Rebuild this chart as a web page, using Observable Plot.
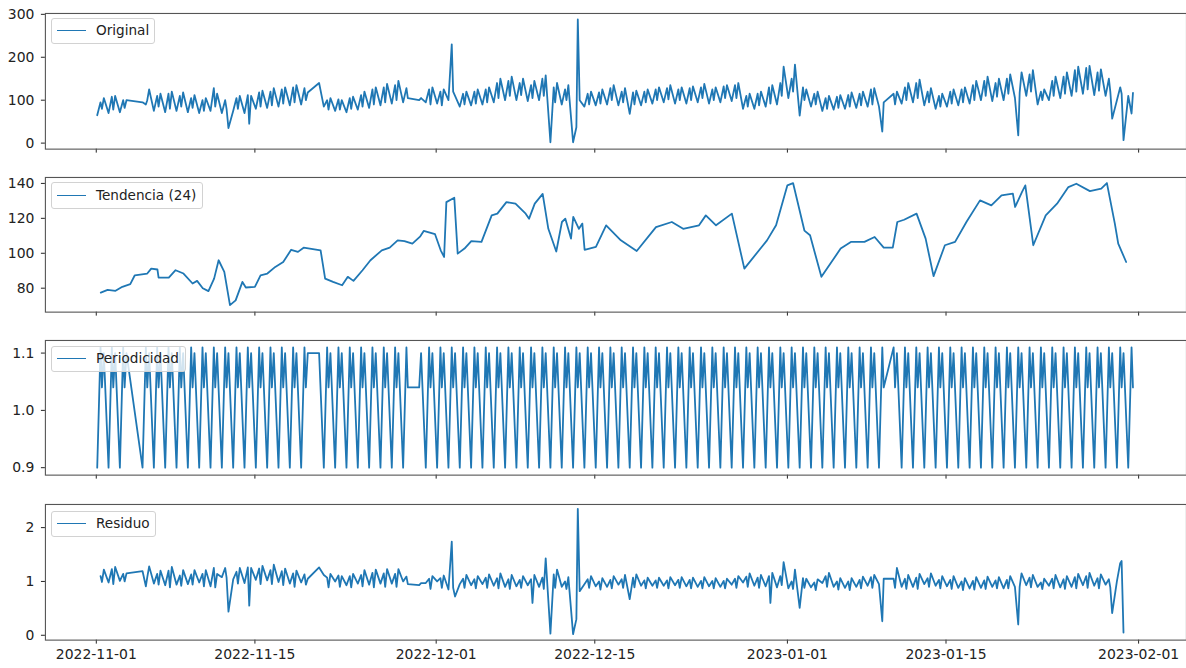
<!DOCTYPE html>
<html><head><meta charset="utf-8">
<script src="https://cdn.jsdelivr.net/npm/d3@7"></script>
<script src="https://cdn.jsdelivr.net/npm/@observablehq/plot@0.6"></script>
<style>
body{margin:0;background:#fff;}
#wrap{position:relative;width:1186px;height:668px;overflow:hidden;font-family:"DejaVu Sans",sans-serif;background:#fff;}
.panel{position:absolute;left:0;}
.panel svg{display:block;overflow:visible;}
.legend{position:absolute;background:rgba(255,255,255,0.8);border:1px solid #d2d2d2;border-radius:3px;box-sizing:border-box;font-size:13.6px;color:#222;}
.legend .sw{position:absolute;left:5px;top:50%;width:29px;height:0;border-top:1.8px solid #1f77b4;margin-top:-0.9px;}
.legend .lab{position:absolute;left:44px;top:50%;transform:translateY(-52%);white-space:nowrap;line-height:1;}
</style></head><body><div id="wrap"></div>
<script>
// ---------------- data ----------------
const startDay = [2022, 10, 1];            // 2022-11-01 (UTC, month 0-based)
const slotHours = [2, 9, 12, 16];          // hours of the samples kept for each day
const seasonalBySlot = [0.90, 1.11, 1.04, 1.10];
const xTickLabels = ["2022-11-01","2022-11-15","2022-12-01","2022-12-15","2023-01-01","2023-01-15","2023-02-01"];

// Original: one row per day (2022-11-01 ... 2023-01-31), values at slotHours; null = no sample
const original = [
[65,95,80,105],[70,108,78,110],[72,100,82,100],[null,null,null,null],[95,90,100,125],
[75,110,85,115],[72,115,80,120],[75,110,85,118],[72,105,82,112],[70,100,75,105],
[75,128,85,115],[70,100,80,35],[75,105,80,110],[70,112,45,110],[80,118,85,122],
[82,120,88,128],[85,125,92,130],[88,130,95,135],[90,128,100,118],[null,null,null,140],
[85,100,78,105],[75,102,78,100],[72,105,80,108],[78,112,85,120],[82,125,90,130],
[88,130,95,138],[92,135,100,145],[95,128,105,null],[null,null,100,105],[95,125,90,130],
[92,120,88,125],[100,230,120,110],[85,115,90,120],[88,120,92,125],[90,125,95,130],
[95,140,105,150],[100,145,110,155],[100,140,112,150],[98,135,105,145],[100,150,110,158],
[2,130,95,140],[90,125,100,135],[2,37,288,100],[85,115,90,120],[88,118,92,125],
[90,128,100,135],[88,120,95,128],[68,118,90,122],[88,120,95,125],[92,125,100,130],
[95,128,102,135],[92,125,100,130],[92,128,100,132],[95,130,105,138],[92,125,100,130],
[95,132,105,135],[98,135,105,140],[80,110,85,115],[80,115,88,120],[85,130,92,135],
[90,140,110,178],[105,150,120,183],[64,130,100,125],[85,115,90,120],[75,105,80,110],
[78,108,82,112],[80,112,85,118],[82,115,88,120],[85,125,90,128],[85,27,95,null],
[null,115,90,120],[92,130,100,140],[95,140,105,148],[88,120,95,128],[80,110,85,115],
[85,120,92,125],[88,125,95,130],[92,135,100,145],[100,145,110,155],[98,140,108,150],
[100,150,115,160],[105,18,118,165],[110,160,120,170],[90,120,100,125],[100,145,110,155],
[105,155,115,165],[110,170,120,178],[115,175,125,180],[112,165,122,172],[110,150,120,57],
[100,130,115,7],[110,69,117,null]
];

// Residual: same layout as original
const residual = [
[null,1.10,0.99,1.22],[0.98,1.23,0.95,1.27],[1.01,1.14,1.00,1.15],[null,null,null,null],[1.19,0.91,1.08,1.28],
[0.96,1.14,0.94,1.20],[0.93,1.20,0.89,1.27],[0.94,1.11,0.92,1.21],[0.95,1.13,0.94,1.21],[0.98,1.14,0.91,1.21],
[0.91,1.25,0.89,1.14],[1.08,1.25,1.07,0.44],[1.04,1.18,0.96,1.25],[0.97,1.26,0.55,1.25],[1.03,1.24,0.95,1.29],
[1.02,1.21,0.95,1.31],[0.99,1.19,0.93,1.24],[0.96,1.15,0.90,1.20],[0.98,1.13,0.94,1.05],[null,null,null,1.26],
[1.12,1.07,0.89,1.14],[1.00,1.11,0.90,1.10],[0.93,1.10,0.89,1.14],[0.96,1.12,0.91,1.21],[0.94,1.16,0.89,1.22],
[0.96,1.15,0.90,1.23],[0.96,1.14,0.90,1.23],[1.00,1.09,0.95,null],[null,null,0.93,0.97],[0.97,1.05,0.86,1.10],
[1.00,1.06,0.88,1.11],[0.85,1.74,0.88,0.72],[0.95,1.05,0.88,1.12],[0.93,1.04,0.87,1.10],[0.95,1.07,0.88,1.13],
[0.92,1.06,0.87,1.15],[0.90,1.04,0.86,1.12],[0.91,1.03,0.88,1.10],[0.93,1.04,0.60,1.12],[0.90,1.07,0.86,1.43],
[0.03,1.13,0.88,1.22],[0.90,1.00,0.86,1.08],[0.02,0.30,2.35,0.82],[0.95,1.04,0.88,1.10],[0.91,1.00,0.85,1.06],
[0.90,1.03,0.87,1.10],[0.94,1.04,0.88,1.12],[0.67,1.07,0.89,1.13],[0.92,1.02,0.87,1.07],[0.92,1.02,0.88,1.07],
[0.92,1.02,0.87,1.08],[0.93,1.03,0.88,1.08],[0.91,1.03,0.87,1.07],[0.90,1.01,0.87,1.08],[0.91,1.01,0.87,1.06],
[0.90,1.01,0.87,1.05],[0.94,1.05,0.88,1.10],[0.98,1.09,0.90,1.15],[0.92,1.07,0.88,1.12],[0.91,1.10,0.60,1.16],
[0.89,1.10,0.93,1.36],[0.87,1.00,0.86,1.22],[0.51,1.06,0.88,1.05],[0.89,0.98,0.84,1.04],[0.97,1.10,0.90,1.16],
[0.90,1.00,0.85,1.06],[0.88,1.00,0.84,1.06],[0.90,1.03,0.87,1.09],[0.92,1.08,0.88,1.12],[0.95,0.26,1.05,null],
[null,1.05,0.88,1.25],[0.90,1.05,0.86,1.12],[0.90,1.07,0.86,1.14],[0.95,1.06,0.90,1.15],[0.92,1.03,0.87,1.10],
[0.91,1.03,0.86,1.10],[0.88,1.00,0.84,1.06],[0.87,1.01,0.85,1.08],[0.88,1.02,0.86,1.09],[0.90,1.02,0.87,1.08],
[0.87,1.03,0.87,1.10],[0.90,0.20,0.90,1.15],[0.93,1.07,0.89,1.12],[0.90,0.98,0.86,1.05],[0.92,1.05,0.87,1.12],
[0.89,1.04,0.86,1.10],[0.90,1.08,0.87,1.14],[0.93,1.10,0.88,1.16],[0.92,1.06,0.87,1.13],[0.94,1.04,0.89,0.41],
[1.00,1.34,1.38,0.05],[null,null,null,null]
];

// Trend (24): day offset from 2022-11-01 and value
const trendDay = [
0.4,1,1.7,2.3,3,3.4,4.5,4.85,5.4,5.5,
6.4,7,7.7,8.5,8.9,9.4,9.9,10.4,10.8,11.3,
11.8,12.3,12.9,13.2,14,14.5,15.1,15.8,16.5,17.2,
17.8,18.3,19.8,20.2,20.9,21.7,22.2,22.7,23.5,24.2,
25.2,25.9,26.6,27.2,27.9,28.6,28.9,29.9,30.4,30.7,
30.9,31.6,31.9,32.5,33.1,34,34.9,35.4,36.2,37,
37.9,38.2,38.7,39.4,39.9,40.6,41.1,41.4,41.9,42.1,
42.6,42.9,43.1,44.1,45,46.3,47.7,49.4,50.8,51.8,
53.2,53.8,54.7,56.1,57.2,59.2,60,61,61.5,62.5,
63,64,65.7,66.6,67.8,68.7,69.5,70.3,70.7,71.3,
72.4,73.2,73.9,74.9,75.8,76.8,78,79,79.9,80.9,
81.1,81.7,82,82.7,83.8,84.8,85.8,86.5,87.7,88.7,
89.2,89.9,90.2,90.9
];
const trendValue = [
77.5,79,78.5,80.8,82.3,87.4,88.4,91.2,90.7,86,
86,90.3,88.4,82.7,84.2,80,78.3,85.5,96,89.3,
70.3,73,83.6,80.4,80.8,87.4,88.4,92.2,95,102,
100.8,103.2,101.7,85.5,83.6,81.7,86.5,84.2,90.3,96,
101.7,103.2,107.4,107,105.5,109.7,112.8,110.9,101.7,97.9,
129.3,131.8,99.8,102.7,107,106.5,121.7,122.7,129.3,128.4,
122.7,119.8,128.4,134,114,101,117.9,119.8,108.4,120.8,
114,117,102,103.6,116,107.4,101.3,115,117.9,114,
116,121.7,116,122.7,91.2,107.4,116,138.9,140.2,113,
110.3,86.5,102.7,106.5,106.5,109.3,103.2,103.2,117.9,119.2,
122.7,108.4,86.9,104.6,106.5,117.9,130.3,127.4,133.1,134.1,
126.5,135,138.9,104.6,121.7,128.4,137.9,139.8,135.6,137,
140.2,117,105.5,95
];

// ---------------- build tables ----------------
const t0 = Date.UTC(startDay[0], startDay[1], startDay[2]);
const DAY = 864e5;
function slotTable(rows) {
  const out = [];
  rows.forEach((row, d) => row.forEach((v, s) => {
    if (v != null) out.push({t: new Date(t0 + d * DAY + slotHours[s] * 36e5), v, s});
  }));
  return out;
}
const origData = slotTable(original);
const seasData = origData.map(o => ({t: o.t, v: seasonalBySlot[o.s]}));
const residData = slotTable(residual);
const trendData = trendDay.map((d, i) => ({t: new Date(t0 + d * DAY), v: trendValue[i]}));

const xTicks = xTickLabels.map(s => d3.isoParse(s));
const pxPerDay = 11.359;
const xDomain = [new Date(t0 - (96 - 45) / pxPerDay * DAY), new Date(t0 + (1189 - 96) / pxPerDay * DAY)];
const fmt = d3.utcFormat("%Y-%m-%d");

const wrap = document.getElementById("wrap");

function panel({data, top, frameH, yDomain, yTicks, yFmt, showX, legend}) {
  const mTop = 10, mBot = showX ? 28 : 14;
  const chart = Plot.plot({
    width: 1189, height: frameH + mTop + mBot,
    marginLeft: 45, marginRight: 0, marginTop: mTop, marginBottom: mBot,
    style: {fontFamily: "'DejaVu Sans', sans-serif", fontSize: "14px", color: "#222", background: "transparent"},
    x: {type: "utc", domain: xDomain, ticks: xTicks, tickFormat: showX ? fmt : () => "", tickSize: 4, tickPadding: 5, label: null},
    y: {domain: yDomain, ticks: yTicks, tickFormat: yFmt, tickSize: 4, tickPadding: 7, label: null},
    marks: [
      Plot.line(data, {x: "t", y: "v", stroke: "#1f77b4", strokeWidth: 1.8}),
      Plot.frame({stroke: "#555", strokeWidth: 1.1})
    ]
  });
  const div = document.createElement("div");
  div.className = "panel";
  div.style.top = top + "px";
  div.appendChild(chart);
  wrap.appendChild(div);
  const lg = document.createElement("div");
  lg.className = "legend";
  lg.style.left = legend.x + "px"; lg.style.top = legend.y + "px";
  lg.style.width = legend.w + "px"; lg.style.height = legend.h + "px";
  lg.innerHTML = `<div class="sw"></div><div class="lab">${legend.text}</div>`;
  wrap.appendChild(lg);
}

panel({data: origData, top: 2.5, frameH: 136, yDomain: [-14, 302], yTicks: [0, 100, 200, 300], yFmt: d3.format("d"),
       showX: false, legend: {x: 51, y: 18, w: 104, h: 26, text: "Original"}});
panel({data: trendData, top: 167, frameH: 135, yDomain: [66.3, 143.4], yTicks: [80, 100, 120, 140], yFmt: d3.format("d"),
       showX: false, legend: {x: 51, y: 182, w: 152, h: 27, text: "Tendencia (24)"}});
panel({data: seasData, top: 330, frameH: 135, yDomain: [0.887, 1.122], yTicks: [0.9, 1.0, 1.1], yFmt: d3.format(".1f"),
       showX: false, legend: {x: 51, y: 346, w: 135, h: 26, text: "Periodicidad"}});
panel({data: residData, top: 494, frameH: 136, yDomain: [-0.09, 2.43], yTicks: [0, 1, 2], yFmt: d3.format("d"),
       showX: true, legend: {x: 51, y: 511, w: 105, h: 26, text: "Residuo"}});
</script></body></html>
